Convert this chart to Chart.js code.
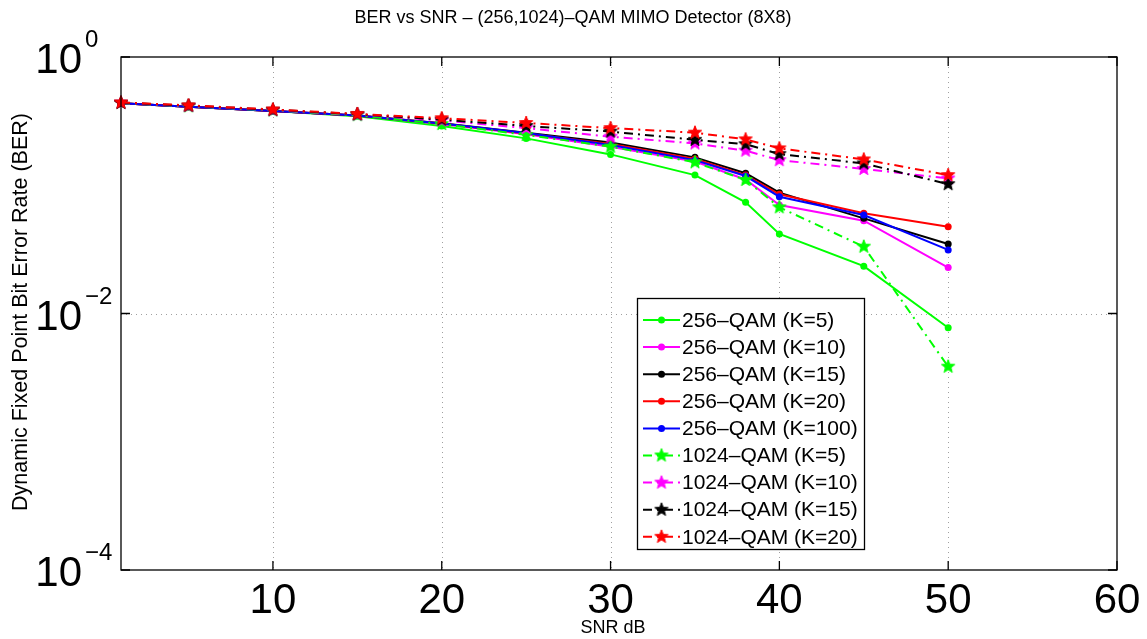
<!DOCTYPE html>
<html>
<head>
<meta charset="utf-8">
<title>BER vs SNR</title>
<script src="https://cdn.jsdelivr.net/npm/chart.js@4.4.0/dist/chart.umd.min.js"></script>
<style>
    html, body { margin: 0; padding: 0; background: #fff; }
    #wrap { width: 1147px; height: 639px; }
</style>
</head>
<body>
<div id="wrap"><canvas id="ber" width="1147" height="639"></canvas></div>
<script>
// SNR points (dB)
const snr = [1, 5, 10, 15, 20, 25, 30, 35, 38, 40, 45, 50];

// 256-QAM curves
const qam256k5   = [0.435, 0.41, 0.38, 0.345, 0.29, 0.232, 0.174, 0.120, 0.0736, 0.0417, 0.0234, 0.00775];
const qam256k10  = [0.435, 0.41, 0.38, 0.35, 0.30, 0.25, 0.20, 0.153, 0.111, 0.0701, 0.0529, 0.0228];
const qam256k15  = [0.435, 0.41, 0.38, 0.35, 0.305, 0.257, 0.215, 0.165, 0.124, 0.0875, 0.0552, 0.0348];
const qam256k20  = [0.435, 0.41, 0.38, 0.35, 0.303, 0.253, 0.21, 0.16, 0.12, 0.085, 0.0604, 0.0475];
const qam256k100 = [0.435, 0.41, 0.38, 0.35, 0.303, 0.255, 0.206, 0.157, 0.118, 0.0814, 0.0586, 0.0313];

// 1024-QAM curves
const qam1024k5  = [0.438, 0.413, 0.383, 0.352, 0.30, 0.247, 0.200, 0.151, 0.110, 0.0673, 0.0332, 0.00385];
const qam1024k10 = [0.44, 0.415, 0.385, 0.356, 0.32, 0.279, 0.239, 0.212, 0.186, 0.157, 0.134, 0.113];
const qam1024k15 = [0.44, 0.418, 0.388, 0.358, 0.325, 0.29, 0.262, 0.226, 0.209, 0.175, 0.148, 0.102];
const qam1024k20 = [0.442, 0.42, 0.39, 0.36, 0.333, 0.306, 0.279, 0.257, 0.228, 0.194, 0.159, 0.120];

const seriesLabels = [
    '256–QAM (K=5)', '256–QAM (K=10)', '256–QAM (K=15)', '256–QAM (K=20)', '256–QAM (K=100)',
    '1024–QAM (K=5)', '1024–QAM (K=10)', '1024–QAM (K=15)', '1024–QAM (K=20)'
];
const seriesValues = [qam256k5, qam256k10, qam256k15, qam256k20, qam256k100,
                      qam1024k5, qam1024k10, qam1024k15, qam1024k20];

const xTicks = [10, 20, 30, 40, 50, 60];
const yTicks = [1, 0.01, 0.0001];

const colors = ['#00ff00', '#ff00ff', '#000000', '#ff0000', '#0000ff',
                '#00ff00', '#ff00ff', '#000000', '#ff0000'];
const FONT = '"Liberation Sans", Arial, Helvetica, sans-serif';

// filled five point star used as marker for the 1024-QAM curves
function starImage(color, r) {
    const c = document.createElement('canvas');
    const s = Math.ceil(r * 2 + 2);
    c.width = s; c.height = s;
    const g = c.getContext('2d');
    g.beginPath();
    for (let i = 0; i < 10; i++) {
        const a = -Math.PI / 2 + i * Math.PI / 5;
        const rr = i % 2 === 0 ? r : r * 0.42;
        g.lineTo(s / 2 + rr * Math.cos(a), s / 2 + rr * Math.sin(a));
    }
    g.closePath();
    g.fillStyle = color;
    g.fill();
    g.strokeStyle = color;
    g.lineWidth = 1;
    g.stroke();
    return c;
}

const datasets = seriesValues.map((vals, i) => {
    const is1024 = i >= 5;
    return {
        label: seriesLabels[i],
        data: snr.map((x, j) => ({ x: x, y: vals[j] })),
        borderColor: colors[i],
        backgroundColor: colors[i],
        borderWidth: 2,
        borderDash: is1024 ? [9, 5, 2, 5] : [],
        pointStyle: is1024 ? starImage(colors[i], 7) : 'circle',
        pointRadius: is1024 ? 7 : 3.5,
        pointBorderWidth: 0,
        tension: 0,
        clip: false,
        order: seriesValues.length - i   // later series on top
    };
});

// MATLAB-like axes: dotted grid, boxed frame, inside ticks, texts, legend
const matlabAxes = {
    id: 'matlabAxes',
    beforeDatasetsDraw(chart) {
        const { ctx, chartArea: a, scales } = chart;
        ctx.save();
        ctx.strokeStyle = '#a0a0a0';
        ctx.lineWidth = 1;
        ctx.setLineDash([1, 4]);
        xTicks.forEach(v => {
            const px = Math.round(scales.x.getPixelForValue(v)) + 0.5;
            if (px > a.left + 1 && px < a.right - 1) {
                ctx.beginPath(); ctx.moveTo(px, a.top); ctx.lineTo(px, a.bottom); ctx.stroke();
            }
        });
        yTicks.forEach(v => {
            const py = Math.round(scales.y.getPixelForValue(v)) + 0.5;
            if (py > a.top + 1 && py < a.bottom - 1) {
                ctx.beginPath(); ctx.moveTo(a.left, py); ctx.lineTo(a.right, py); ctx.stroke();
            }
        });
        ctx.restore();
    },
    afterDraw(chart) {
        const { ctx, chartArea: a, scales } = chart;
        const tick = 9;
        ctx.save();

        // frame
        ctx.setLineDash([]);
        ctx.strokeStyle = '#000';
        ctx.lineWidth = 1.3;
        ctx.strokeRect(a.left, a.top, a.right - a.left, a.bottom - a.top);

        // ticks
        ctx.beginPath();
        xTicks.forEach(v => {
            const px = scales.x.getPixelForValue(v);
            ctx.moveTo(px, a.bottom); ctx.lineTo(px, a.bottom - tick);
            ctx.moveTo(px, a.top); ctx.lineTo(px, a.top + tick);
        });
        yTicks.forEach(v => {
            const py = scales.y.getPixelForValue(v);
            ctx.moveTo(a.left, py); ctx.lineTo(a.left + tick, py);
            ctx.moveTo(a.right, py); ctx.lineTo(a.right - tick, py);
        });
        ctx.stroke();

        // x tick labels
        ctx.fillStyle = '#000';
        ctx.font = '42px ' + FONT;
        ctx.textAlign = 'center';
        ctx.textBaseline = 'alphabetic';
        xTicks.forEach(v => {
            ctx.fillText(String(v), scales.x.getPixelForValue(v), a.bottom + 43);
        });

        // y tick labels as 10^n
        yTicks.forEach(v => {
            const py = scales.y.getPixelForValue(v);
            const exp = Math.round(Math.log10(v));
            ctx.font = '42px ' + FONT;
            ctx.textAlign = 'right';
            ctx.fillText('10', a.left - 39, py + 16);
            ctx.font = '24px ' + FONT;
            ctx.textAlign = 'left';
            ctx.fillText(String(exp).replace('-', '−'), a.left - 36, py - 10);
        });

        // titles
        ctx.font = '18px ' + FONT;
        ctx.textAlign = 'center';
        ctx.textBaseline = 'middle';
        ctx.fillText('BER vs SNR – (256,1024)–QAM MIMO Detector (8X8)', 573, 18);
        ctx.fillText('SNR dB', 613, 628);
        ctx.save();
        ctx.font = '21.5px ' + FONT;
        ctx.translate(21, 312);
        ctx.rotate(-Math.PI / 2);
        ctx.fillText('Dynamic Fixed Point Bit Error Rate (BER)', 0, 0);
        ctx.restore();

        // legend box
        const box = { x: 637, y: 298, w: 227, h: 251 };
        ctx.fillStyle = '#fff';
        ctx.fillRect(box.x, box.y, box.w, box.h);
        ctx.strokeStyle = '#000';
        ctx.lineWidth = 1.3;
        ctx.strokeRect(box.x + 0.5, box.y + 0.5, box.w, box.h);
        ctx.font = '21px ' + FONT;
        ctx.textAlign = 'left';
        ctx.textBaseline = 'middle';
        chart.data.datasets.forEach((ds, i) => {
            const y = box.y + 22 + i * 27.1;
            ctx.strokeStyle = ds.borderColor;
            ctx.lineWidth = 2;
            ctx.setLineDash(ds.borderDash);
            ctx.beginPath(); ctx.moveTo(box.x + 6, y); ctx.lineTo(box.x + 43, y); ctx.stroke();
            ctx.setLineDash([]);
            if (typeof ds.pointStyle === 'string') {
                ctx.fillStyle = ds.backgroundColor;
                ctx.beginPath(); ctx.arc(box.x + 24.5, y, 3.5, 0, Math.PI * 2); ctx.fill();
            } else {
                const img = ds.pointStyle;
                ctx.drawImage(img, box.x + 24.5 - img.width / 2, y - img.height / 2);
            }
            ctx.fillStyle = '#000';
            ctx.fillText(ds.label, box.x + 45, y + 1);
        });
        ctx.restore();
    }
};

new Chart(document.getElementById('ber'), {
    type: 'line',
    data: { datasets: datasets },
    options: {
        responsive: false,
        animation: false,
        layout: { padding: { left: 121, top: 57, right: 30, bottom: 69 } },
        scales: {
            x: {
                type: 'linear', min: 1, max: 60, display: false,
                afterBuildTicks: s => { s.ticks = xTicks.map(v => ({ value: v })); }
            },
            y: {
                type: 'logarithmic', min: 0.0001, max: 1, display: false,
                afterBuildTicks: s => { s.ticks = yTicks.map(v => ({ value: v })); }
            }
        },
        plugins: {
            legend: { display: false },
            tooltip: { enabled: false }
        }
    },
    plugins: [matlabAxes]
});
</script>
</body>
</html>
